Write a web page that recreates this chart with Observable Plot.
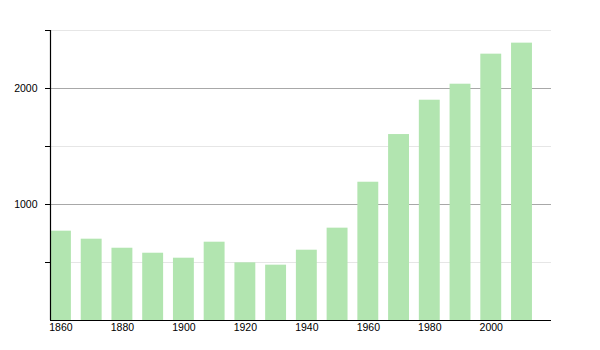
<!DOCTYPE html>
<html>
<head>
<meta charset="utf-8">
<script src="https://cdn.jsdelivr.net/npm/d3@7"></script>
<script src="https://cdn.jsdelivr.net/npm/@observablehq/plot@0.6"></script>
<style>
  html, body { margin: 0; padding: 0; background: #fff; }
  #chart svg { display: block; }
</style>
</head>
<body>
<div id="chart"></div>
<script>
const years = [1860, 1870, 1880, 1890, 1900, 1910, 1920, 1930, 1940, 1950, 1960, 1970, 1980, 1990, 2000, 2010];
const population = [770, 701, 623, 580, 537, 675, 497, 477, 606, 796, 1192, 1603, 1899, 2037, 2296, 2391];
const xTicks = [1860, 1880, 1900, 1920, 1940, 1960, 1980, 2000];
const yTicks = [500, 1000, 1500, 2000, 2500];
const majorGrid = [1000, 2000];
const minorGrid = [500, 1500, 2500];
const xDomain = [1856.6, 2019.6];
const yDomain = [0, 2500];
const halfWidth = 3.4;

const data = years.map((year, i) => ({year, value: population[i]}));

const chart = Plot.plot({
  width: 600,
  height: 350,
  marginLeft: 50,
  marginRight: 49,
  marginTop: 30,
  marginBottom: 30,
  style: {fontFamily: "'Liberation Sans', Arial, sans-serif", fontSize: "10.5px", color: "#000", background: "#fff"},
  x: {domain: xDomain, type: "linear"},
  y: {domain: yDomain},
  marks: [
    Plot.ruleY(minorGrid, {stroke: "#e6e6e6", strokeWidth: 1}),
    Plot.ruleY(majorGrid, {stroke: "#a8a8a8", strokeWidth: 1}),
    Plot.rectY(data, {x1: d => d.year - halfWidth, x2: d => d.year + halfWidth, y: "value", fill: "#b2e5b0"}),
    Plot.axisY({ticks: yTicks, tickSize: 5, tickPadding: 8, tickFormat: d => d % 1000 === 0 ? String(d) : "", stroke: "#000", strokeOpacity: 1, label: null}),
    Plot.axisX({ticks: xTicks, tickSize: 0, tickPadding: 3, tickFormat: d => String(d), label: null}),
    Plot.ruleX([xDomain[0]], {stroke: "#000", strokeWidth: 1.2}),
    Plot.ruleY([0], {stroke: "#000", strokeWidth: 1.2})
  ]
});
document.getElementById("chart").appendChild(chart);
</script>
</body>
</html>
